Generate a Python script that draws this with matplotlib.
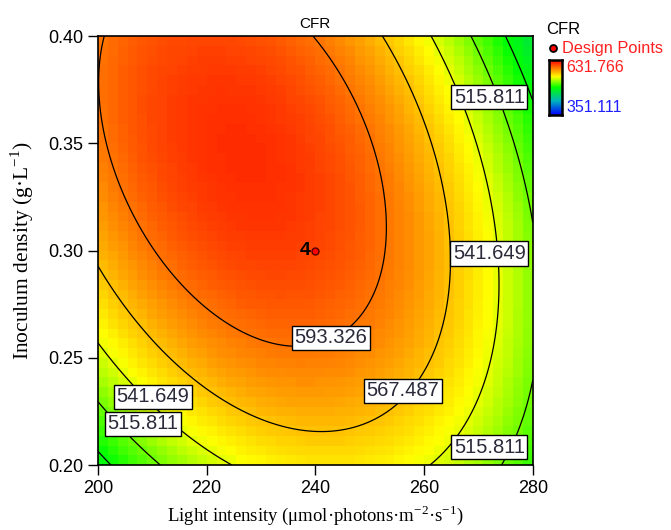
import matplotlib
matplotlib.use('Agg')
import matplotlib.pyplot as plt
import numpy as np
from matplotlib.colors import LinearSegmentedColormap

plt.rcParams['font.family'] = ['Liberation Sans', 'DejaVu Sans']
plt.rcParams['mathtext.fontset'] = 'custom'
plt.rcParams['mathtext.rm'] = 'Liberation Serif'

# fitted quadratic response surface for CFR (coded factors A, B)
b0 = 608.34
bA = -26.54
bB = 19.10
bAB = -35.59
bAA = -63.27
bBB = -34.79

# contour levels and their label positions (light, inoculum)
levels = [489.972, 515.811, 541.649, 567.487, 593.326]
label_level = [515.811, 541.649, 593.326, 567.487, 541.649, 515.811, 515.811]
label_x = [272.0, 272.0, 242.8, 256.1, 210.1, 208.3, 272.0]
label_y = [0.3715, 0.2986, 0.2593, 0.2346, 0.2318, 0.2192, 0.2084]

# design points
design_x = [240]
design_y = [0.30]
design_n = ['4']

cfr_min = 351.111
cfr_max = 631.766


def cfr(x, y):
    A = (x - 240) / 40
    B = (y - 0.30) / 0.10
    return b0 + bA*A + bB*B + bAB*A*B + bAA*A*A + bBB*B*B


cmap = LinearSegmentedColormap.from_list(
    'de', [(0, (0, 0, 1)), (0.25, (0, 0.7, 0.75)), (0.5, (0, 1, 0)),
           (0.7, (1, 1, 0)), (1, (1, 0, 0))])

fig = plt.figure(figsize=(6.71, 5.30), dpi=100)
ax = fig.add_axes([0.146, 0.1226, 0.648, 0.8094])

# coarse blocky colour map, like the original
xe = np.linspace(200, 280, 45)
ye = np.linspace(0.20, 0.40, 45)
XC, YC = np.meshgrid((xe[:-1] + xe[1:]) / 2, (ye[:-1] + ye[1:]) / 2)
ax.pcolormesh(xe, ye, cfr(XC, YC), cmap=cmap, vmin=cfr_min, vmax=cfr_max)

X, Y = np.meshgrid(np.linspace(200, 280, 300), np.linspace(0.20, 0.40, 300))
ax.contour(X, Y, cfr(X, Y), levels=levels, colors='k', linewidths=0.9)

for lv, lx, ly in zip(label_level, label_x, label_y):
    ax.text(lx, ly, '%.3f' % lv, ha='center', va='center', fontsize=14.5,
            color='#2a2a3a', zorder=5,
            bbox=dict(boxstyle='square,pad=0.13', fc='white', ec='black', lw=1))

ax.plot(design_x, design_y, 'o', ms=5, mfc='red', mec='#500000', mew=1, zorder=6)
for dx, dy, n in zip(design_x, design_y, design_n):
    ax.text(dx - 0.9, dy, n, ha='right', va='center', fontsize=14,
            fontweight='bold', zorder=6)

ax.set_xlim(200, 280)
ax.set_ylim(0.20, 0.40)
ax.set_xticks([200, 220, 240, 260, 280])
ax.set_yticks([0.20, 0.25, 0.30, 0.35, 0.40])
ax.set_yticklabels(['%.2f' % v for v in [0.20, 0.25, 0.30, 0.35, 0.40]])
ax.tick_params(direction='out', length=7, width=1, labelsize=13, top=False, right=False)
for s in ax.spines.values():
    s.set_linewidth(1.2)

ax.set_title('CFR', fontsize=11, pad=6)
ax.set_xlabel('Light intensity (μmol·photons·m$^{-2}$·s$^{-1}$)',
              family=['Liberation Serif', 'DejaVu Serif'], fontsize=13.5, labelpad=5)
ax.set_ylabel('Inoculum density (g·L$^{-1}$)',
              family=['Liberation Serif', 'DejaVu Serif'], fontsize=15.5, labelpad=9)

# legend / colour key on the right
fig.text(546 / 671, 1 - 30 / 530, 'CFR', fontsize=12, va='center')
fig.add_artist(plt.Line2D([553 / 671], [1 - 48 / 530], marker='o', ms=5,
                          mfc='red', mec='black', mew=1.3, ls='none'))
fig.text(562 / 671, 1 - 48 / 530, 'Design Points', fontsize=11.8, color='#ff2020', va='center')
cax = fig.add_axes([549 / 671, 1 - 115 / 530, 13 / 671, 55 / 530])
cax.imshow(np.linspace(1, 0, 100)[:, None], aspect='auto', cmap=cmap)
cax.set_xticks([])
cax.set_yticks([])
for s in cax.spines.values():
    s.set_linewidth(1.8)
fig.text(566 / 671, 1 - 68 / 530, '%.3f' % cfr_max, fontsize=11.5, color='#ff2020', va='center')
fig.text(566 / 671, 1 - 107 / 530, '%.3f' % cfr_min, fontsize=11.5, color='#2020ff', va='center')

fig.savefig('out.png', dpi=100)
